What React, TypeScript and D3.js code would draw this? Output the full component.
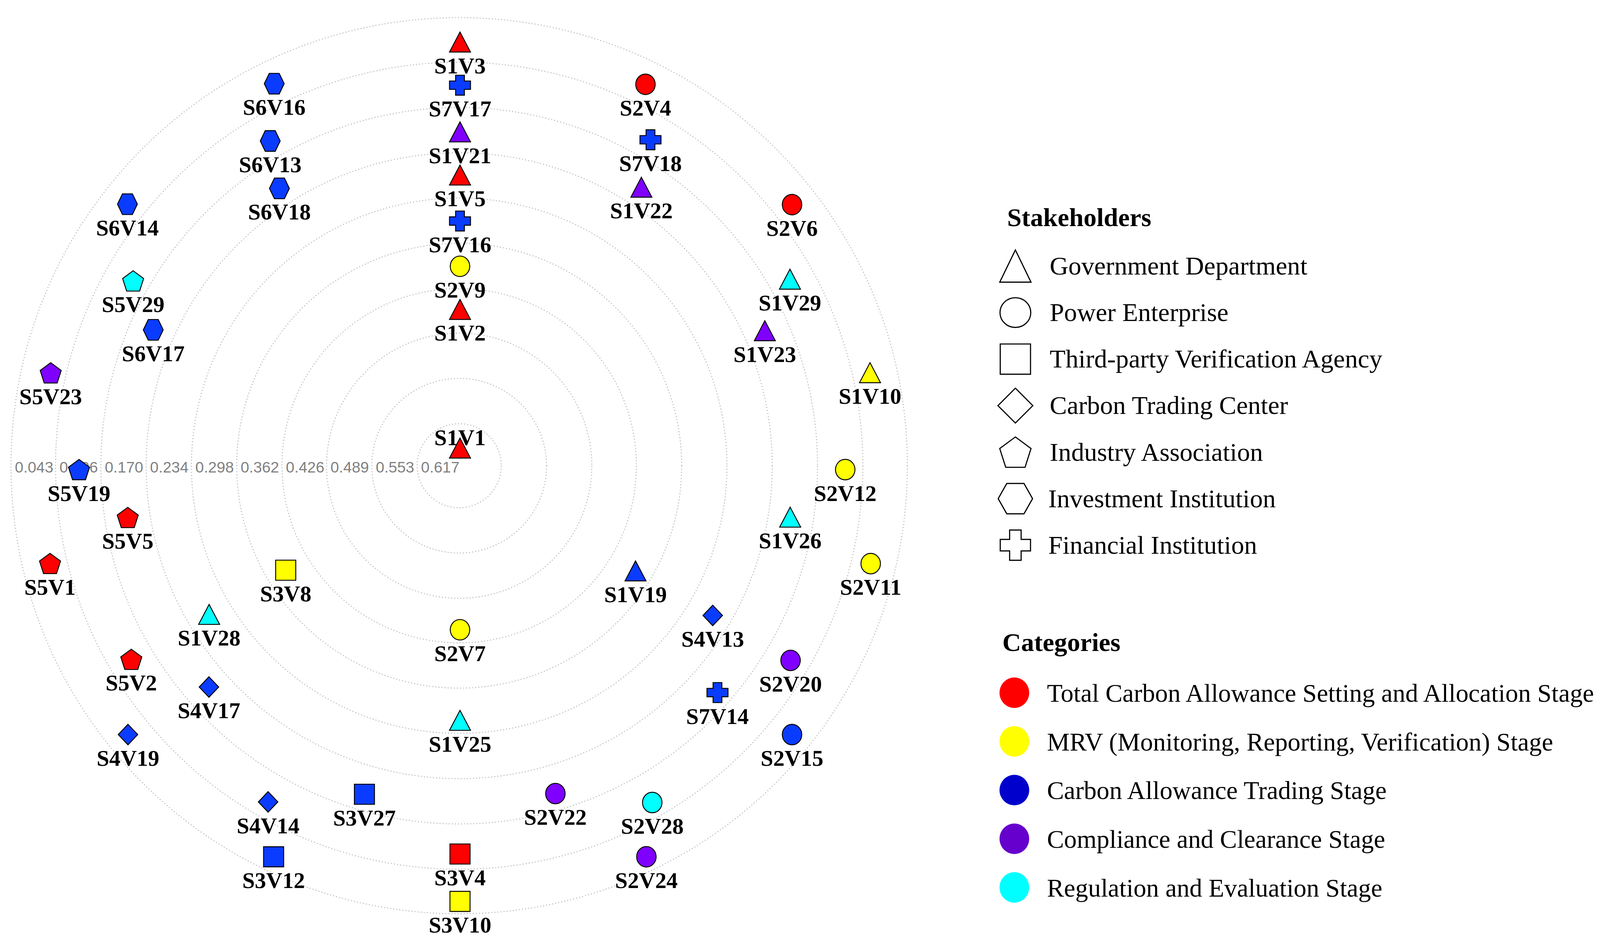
import { useEffect } from "react";
import * as d3 from "d3";

// Legend entries
const STAKEHOLDERS = [
  "Government Department",
  "Power Enterprise",
  "Third-party Verification Agency",
  "Carbon Trading Center",
  "Industry Association",
  "Investment Institution",
  "Financial Institution",
];

const CATEGORIES = [
  "Total Carbon Allowance Setting and Allocation Stage",
  "MRV (Monitoring, Reporting, Verification) Stage",
  "Carbon Allowance Trading Stage",
  "Compliance and Clearance Stage",
  "Regulation and Evaluation Stage",
];

// Concentric ring values, outer -> inner
const RING_TICKS = [0.043, 0.106, 0.17, 0.234, 0.298, 0.362, 0.426, 0.489, 0.553, 0.617];
const RING_LABELS = ["0.043", "0.106", "0.170", "0.234", "0.298", "0.362", "0.426", "0.489", "0.553", "0.617"];

// Nodes: name, category index, radial value, angle (deg, clockwise from top)
const NODE_NAMES = [
  "S1V3", "S2V4", "S2V6", "S1V10", "S2V11", "S2V15", "S2V24", "S3V10", "S3V12", "S4V19", "S5V1", "S5V23", "S6V14", "S6V16",
  "S7V17", "S7V18", "S1V29", "S2V12", "S2V20", "S2V28", "S3V4", "S4V14", "S5V2", "S5V19", "S5V29", "S6V13",
  "S1V21", "S1V22", "S1V23", "S1V26", "S7V14", "S2V22", "S3V27", "S4V17", "S5V5", "S6V17", "S6V18",
  "S1V5", "S4V13", "S1V28",
  "S7V16", "S1V25",
  "S2V9", "S1V19", "S3V8",
  "S1V2", "S2V7",
  "S1V1",
];
const NODE_CATEGORY = [
  0, 0, 0, 1, 1, 2, 3, 1, 2, 2, 0, 3, 2, 2,
  2, 2, 4, 1, 3, 4, 0, 2, 0, 2, 4, 2,
  3, 3, 3, 4, 2, 3, 2, 2, 0, 2, 2,
  0, 2, 4,
  2, 4,
  1, 2, 1,
  0, 1,
  0,
];
const NODE_VALUES = [
  0.072, 0.072, 0.076, 0.081, 0.081, 0.076, 0.069, 0.066, 0.069, 0.076, 0.082, 0.082, 0.075, 0.071,
  0.133, 0.138, 0.138, 0.132, 0.137, 0.133, 0.133, 0.134, 0.14, 0.138, 0.143, 0.14,
  0.199, 0.202, 0.203, 0.205, 0.195, 0.199, 0.198, 0.207, 0.202, 0.2, 0.204,
  0.26, 0.264, 0.267,
  0.325, 0.322,
  0.389, 0.39, 0.392,
  0.45, 0.45,
  0.646,
];
const NODE_ANGLES = [
  0, 25.7, 51.4, 76.7, 102.9, 128.6, 154.3, 180, 205.7, 231.4, 257.1, 283.3, 308.6, 334.3,
  0, 30, 60, 90, 120, 150, 180, 210, 240, 270, 300, 330,
  0, 32.7, 65.5, 98.2, 130.9, 163.6, 196.4, 229.1, 261.8, 294.5, 327.3,
  0, 120, 240,
  0, 180,
  0, 120, 240,
  0, 180,
  0,
];

// styles
const MARKER_FILL = ["#ff0000", "#ffff00", "#0a3cff", "#7f00ff", "#00ffff"];
const LEGEND_FILL = ["#ff0000", "#ffff00", "#0000cc", "#6600cc", "#00ffff"];
const MARKER_SIZE: [number, number][] = [
  [20.5, 19.5], [19, 20], [19.6, 19.6], [19, 20], [20.5, 19.8], [19.4, 20.2], [20.5, 19.5],
];
const LEGEND_SIZE: [number, number][] = [
  [30.5, 31.4], [30, 29], [29.5, 29.5], [34, 34], [30.5, 29.6], [33.5, 29.6], [29.5, 29.5],
];

const W = 1568;
const H = 923.6;
const CX = 447.7;
const CY = 454.2;
// node layout origin sits a little below the ring centre
const NX = 448.5;
const NY = 458;

function shapePath(kind: number, w: number, h: number, arm = 0.42): string {
  const a = w / 2;
  const b = h / 2;
  switch (kind) {
    case 0:
      return `M0,${-b}L${a},${b}L${-a},${b}Z`;
    case 1:
      return `M${-a},0A${a},${b} 0 1,0 ${a},0A${a},${b} 0 1,0 ${-a},0Z`;
    case 2:
      return `M${-a},${-b}H${a}V${b}H${-a}Z`;
    case 3:
      return `M0,${-b}L${a},0L0,${b}L${-a},0Z`;
    case 4: {
      const pts = d3.range(5).map((k) => {
        const t = -Math.PI / 2 + (k * 2 * Math.PI) / 5;
        const x = Math.cos(t);
        const y = Math.sin(t);
        return [(x / 1.902) * w, ((y + 0.0955) / 1.809) * h];
      });
      return "M" + pts.map((p) => p.join(",")).join("L") + "Z";
    }
    case 5:
      return `M${-a},0L${-a / 2},${-b}L${a / 2},${-b}L${a},0L${a / 2},${b}L${-a / 2},${b}Z`;
    default: {
      const tx = (w * arm) / 2;
      const ty = (h * arm) / 2;
      return `M${-tx},${-b}H${tx}V${-ty}H${a}V${ty}H${tx}V${b}H${-tx}V${ty}H${-a}V${-ty}H${-tx}Z`;
    }
  }
}

export default function App() {
  useEffect(() => {
    document.body.style.margin = "0";
    document.body.style.background = "#ffffff";
  }, []);

  const r = d3.scaleLinear().domain([0.617, 0.043]).range([41, 437]);
  const angle = d3.scaleLinear().domain([0, 360]).range([0, 2 * Math.PI]);

  const nodes = NODE_NAMES.map((name, i) => {
    const rad = r(NODE_VALUES[i]);
    const a = angle(NODE_ANGLES[i]);
    return {
      name,
      kind: +name[1] - 1,
      cat: NODE_CATEGORY[i],
      x: NX + rad * Math.sin(a),
      y: NY - rad * Math.cos(a),
      inner: rad < r(0.617),
    };
  });

  const stakeRow = d3.scalePoint<number>().domain(d3.range(STAKEHOLDERS.length)).range([259.5, 531.7]);
  const catRow = d3.scalePoint<number>().domain(d3.range(CATEGORIES.length)).range([675.6, 865.5]);

  const serif = "'Liberation Serif', 'Times New Roman', serif";

  return (
    <svg
      width={4117}
      height={2425}
      viewBox={`0 0 ${W} ${H}`}
      style={{ display: "block", background: "#fff" }}
    >
      {/* rings */}
      <g fill="none" stroke="#bdbdbd" strokeWidth={1} strokeDasharray="1 2">
        {RING_TICKS.map((t) => (
          <circle key={t} cx={CX} cy={CY} r={r(t)} />
        ))}
      </g>
      {/* ring labels along left radius */}
      <g fontFamily="'Liberation Sans', Arial, sans-serif" fontSize={15} fill="#808080">
        {RING_TICKS.map((t, i) => (
          <text key={t} x={CX - r(t) + 3.8} y={CY + 6.7}>
            {RING_LABELS[i]}
          </text>
        ))}
      </g>
      {/* node labels */}
      <g fontFamily={serif} fontWeight="bold" fontSize={22} textAnchor="middle" fill="#000">
        {nodes.map((n) => (
          <text key={n.name} x={n.x} y={n.inner ? n.y - 3 : n.y + 30.5}>
            {n.name}
          </text>
        ))}
      </g>
      {/* node markers */}
      <g stroke="#000" strokeWidth={0.9} strokeLinejoin="miter">
        {nodes.map((n) => (
          <path
            key={n.name}
            transform={`translate(${n.x},${n.y})`}
            d={shapePath(n.kind, MARKER_SIZE[n.kind][0], MARKER_SIZE[n.kind][1])}
            fill={MARKER_FILL[n.cat]}
          />
        ))}
      </g>

      {/* legend: stakeholders */}
      <text x={982} y={220.5} fontFamily={serif} fontWeight="bold" fontSize={25.3}>
        Stakeholders
      </text>
      {STAKEHOLDERS.map((s, i) => (
        <g key={s} transform={`translate(990,${stakeRow(i)})`}>
          <path
            d={shapePath(i, LEGEND_SIZE[i][0], LEGEND_SIZE[i][1], 0.38)}
            fill="#fff"
            stroke="#000"
            strokeWidth={1.1}
          />
          <text x={i === 5 || i === 6 ? 32 : 33.5} y={8.3} fontFamily={serif} fontSize={25.2}>
            {s}
          </text>
        </g>
      ))}

      {/* legend: categories */}
      <text x={977.3} y={635} fontFamily={serif} fontWeight="bold" fontSize={25.3}>
        Categories
      </text>
      {CATEGORIES.map((c, i) => (
        <g key={c} transform={`translate(989,${catRow(i)})`}>
          <ellipse rx={14.5} ry={14.9} fill={LEGEND_FILL[i]} />
          <text x={31.8} y={8.8} fontFamily={serif} fontSize={24.9}>
            {c}
          </text>
        </g>
      ))}
    </svg>
  );
}
